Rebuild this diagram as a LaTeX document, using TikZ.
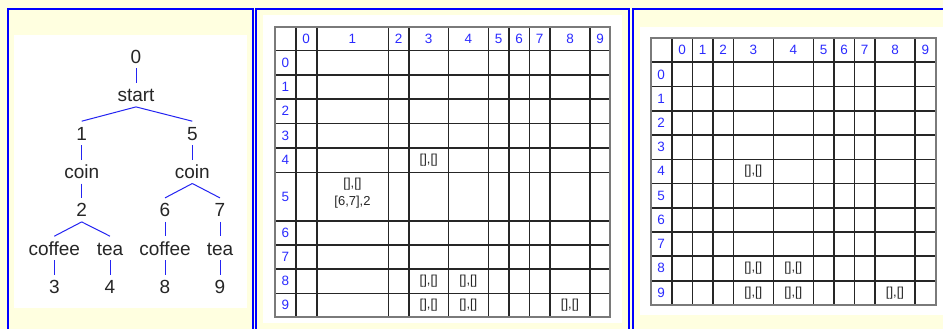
\documentclass[tikz,border=0pt]{standalone}
\usepackage{fontspec}
\setmainfont{Liberation Sans}
\usetikzlibrary{positioning}
\definecolor{PageYellow}{HTML}{FFFFE0}
\definecolor{FrameBlue}{HTML}{0000FF}
\definecolor{LabelBlue}{HTML}{2B2BFF}
\definecolor{EdgeBlue}{HTML}{2424F2}
\definecolor{GridGrey}{HTML}{7A7A7A}
\tikzset{
  state/.style={inner xsep=2pt,inner ysep=5pt,anchor=base,text height=13.6pt,text depth=0pt,font=\fontsize{19}{19}\selectfont,text=black!85},
  edge/.style={draw=EdgeBlue,line width=1pt},
  hdr/.style={font=\fontsize{13.5}{13.5}\selectfont,text=LabelBlue,inner sep=0pt},
  cell/.style={font=\fontsize{13}{18.5}\selectfont,text=black!85,inner sep=0pt,align=center},
  gridline/.style={line width=1.6pt,black!85},
  gridframe/.style={line width=2pt,draw=GridGrey},
  panel/.style={draw=FrameBlue,line width=2pt}
}
\begin{document}
\begin{tikzpicture}[x=1pt,y=-1pt]
\useasboundingbox (0,0) rectangle (943,329);
\fill[PageYellow] (0,0) rectangle (943,329);
\fill[white] (14,35) rectangle (247,308);
\fill[white] (263,15) rectangle (622,323);
\fill[white] (640,27) rectangle (943,315);
\draw[panel] (8,329) |- (253,9) -- (253,329);
\draw[panel] (256,329) |- (629,9) -- (629,329);
\draw[panel] (633,329) |- (943,9);

% tree
\node[state] (s0) at (136,63.3) {0};
\node[state] (start) at (136,101.7) {start};
\node[state] (s1) at (81.7,140) {1};
\node[state] (s5) at (192.3,140) {5};
\node[state] (coin1) at (81.7,178.3) {coin};
\node[state] (coin5) at (192.3,178.3) {coin};
\node[state] (s2) at (81.7,216.7) {2};
\node[state] (s6) at (165,216.7) {6};
\node[state] (s7) at (220,216.7) {7};
\node[state] (coffee1) at (54.3,255) {coffee};
\node[state] (tea1) at (110,255) {tea};
\node[state] (coffee6) at (165,255) {coffee};
\node[state] (tea7) at (220,255) {tea};
\node[state] (s3) at (54.3,293.3) {3};
\node[state] (s4) at (110,293.3) {4};
\node[state] (s8) at (165,293.3) {8};
\node[state] (s9) at (220,293.3) {9};
\draw[edge] (s0.south)--(start.north);
\draw[edge] (start.south)--(s1.north);
\draw[edge] (start.south)--(s5.north);
\draw[edge] (s1.south)--(coin1.north);
\draw[edge] (s5.south)--(coin5.north);
\draw[edge] (coin1.south)--(s2.north);
\draw[edge] (coin5.south)--(s6.north);
\draw[edge] (coin5.south)--(s7.north);
\draw[edge] (s2.south)--(coffee1.north);
\draw[edge] (s2.south)--(tea1.north);
\draw[edge] (s6.south)--(coffee6.north);
\draw[edge] (s7.south)--(tea7.north);
\draw[edge] (coffee1.south)--(s3.north);
\draw[edge] (tea1.south)--(s4.north);
\draw[edge] (coffee6.south)--(s8.north);
\draw[edge] (tea7.south)--(s9.north);

% middle table
\foreach \x in {295.7,316.7,388.3,409,448.3,488.3,509,529.3,550,590}
  \draw[gridline] (\x,27)--(\x,316.7);
\foreach \y in {50.7,75,99,123.3,147.7,172.3,220.7,245,269,293.3}
  \draw[gridline] (275,\y)--(610,\y);
\draw[gridframe] (275,27) rectangle (610,316.7);
\foreach \x [remember=\x as \lastx (initially 295.7),count=\i from 0] in {316.7,388.3,409,448.3,488.3,509,529.3,550,590,610}
  \node[hdr] (mc\i) at ({(\x+\lastx)/2},38.9) {\i};
\foreach \y [remember=\y as \lasty (initially 50.7),count=\i from 0] in {75,99,123.3,147.7,172.3,220.7,245,269,293.3,316.7}
  \node[hdr] (mr\i) at (285.3,{(\y+\lasty)/2}) {\i};
\node[cell] (m34) at (428.7,160) {[],[]};
\node[cell] (m15) at (352.5,193) {[],[]\\{[6,7],2}};
\node[cell] (m38) at (428.7,281.2) {[],[]};
\node[cell] (m48) at (468.3,281.2) {[],[]};
\node[cell] (m39) at (428.7,305) {[],[]};
\node[cell] (m49) at (468.3,305) {[],[]};
\node[cell] (m89) at (570,305) {[],[]};

% right table
\foreach \x in {671.7,692.3,712.7,733.3,773.3,813.3,834,854.3,875,915}
  \draw[gridline] (\x,37.7)--(\x,305);
\foreach \y in {62.3,86.7,111,135,159.3,183.3,207.7,231.7,256,280.7}
  \draw[gridline] (650.7,\y)--(935.7,\y);
\draw[gridframe] (650.7,37.7) rectangle (935.7,305);
\foreach \x [remember=\x as \lastx (initially 671.7),count=\i from 0] in {692.3,712.7,733.3,773.3,813.3,834,854.3,875,915,935.7}
  \node[hdr] (rc\i) at ({(\x+\lastx)/2},50) {\i};
\foreach \y [remember=\y as \lasty (initially 62.3),count=\i from 0] in {86.7,111,135,159.3,183.3,207.7,231.7,256,280.7,305}
  \node[hdr] (rr\i) at (661,{(\y+\lasty)/2}) {\i};
\node[cell] (r34) at (753.3,171.3) {[],[]};
\node[cell] (r38) at (753.3,268.4) {[],[]};
\node[cell] (r48) at (793.3,268.4) {[],[]};
\node[cell] (r39) at (753.3,292.9) {[],[]};
\node[cell] (r49) at (793.3,292.9) {[],[]};
\node[cell] (r89) at (895,292.9) {[],[]};
\end{tikzpicture}
\end{document}
